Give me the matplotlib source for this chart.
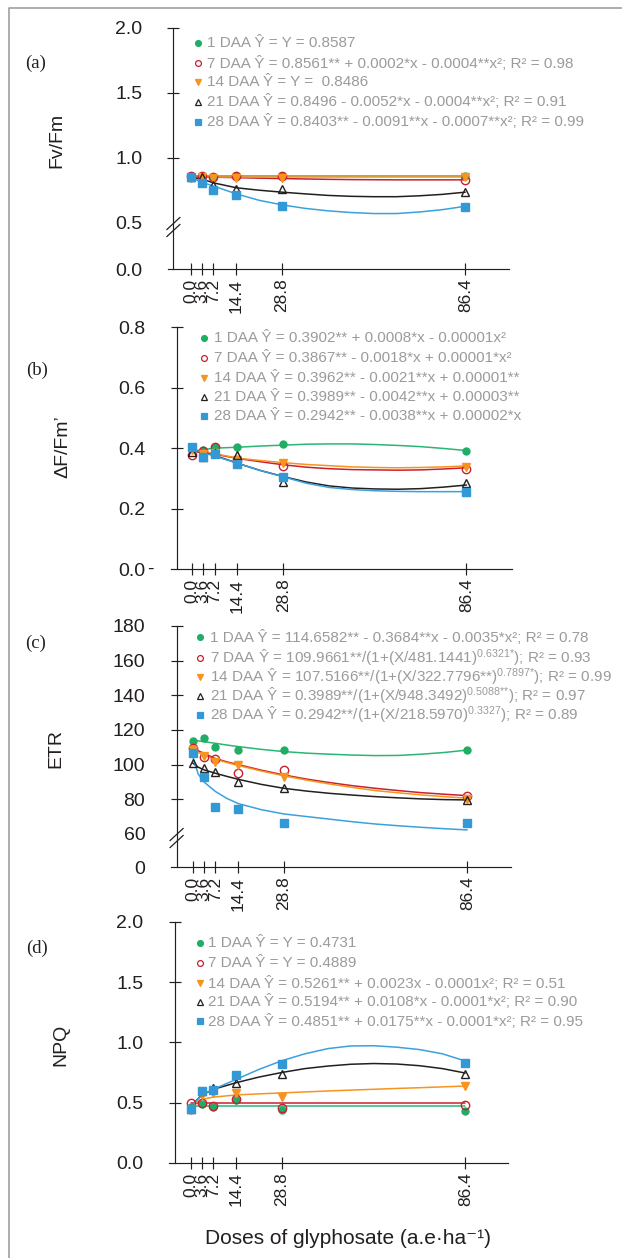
import matplotlib
matplotlib.use('Agg')
import matplotlib.pyplot as plt
from matplotlib.lines import Line2D

plt.rcParams['font.family'] = ['Liberation Sans', 'DejaVu Sans']
plt.rcParams['mathtext.fontset'] = 'custom'
plt.rcParams['mathtext.rm'] = 'Liberation Sans'
plt.rcParams['mathtext.it'] = 'Liberation Sans:italic'
plt.rcParams['mathtext.bf'] = 'Liberation Sans:bold'

# ---------------- data ----------------
doses = [0.0, 3.6, 7.2, 14.4, 28.8, 86.4]
dose_labels = ['0.0', '3.6', '7.2', '14.4', '28.8', '86.4']
days = ['1 DAA', '7 DAA', '14 DAA', '21 DAA', '28 DAA']

# (a) Fv/Fm observed
fvfm_1 = [0.855, 0.857, 0.853, 0.856, 0.856, 0.857]
fvfm_7 = [0.858, 0.858, 0.850, 0.856, 0.856, 0.827]
fvfm_14 = [0.845, 0.850, 0.842, 0.840, 0.840, 0.850]
fvfm_21 = [0.850, 0.850, 0.790, 0.757, 0.757, 0.731]
fvfm_28 = [0.850, 0.804, 0.752, 0.708, 0.630, 0.618]
# (a) fitted curves
fit_x = [0, 3.6, 7.2, 14.4, 21.6, 28.8, 36, 43.2, 50.4, 57.6, 64.8, 72, 79.2, 86.4]
flat_x = [0, 86.4]
fvfm_fit_1 = [0.8587, 0.8587]
fvfm_fit_7 = [0.852, 0.851, 0.849, 0.845, 0.841, 0.838, 0.835, 0.832, 0.830, 0.829, 0.828, 0.828, 0.828, 0.828]
fvfm_fit_14 = [0.8486, 0.8486]
fvfm_fit_21 = [0.847, 0.835, 0.805, 0.767, 0.748, 0.733, 0.720, 0.708, 0.701, 0.698, 0.698, 0.705, 0.716, 0.733]
fvfm_fit_28 = [0.847, 0.810, 0.780, 0.720, 0.670, 0.635, 0.608, 0.589, 0.576, 0.568, 0.568, 0.580, 0.598, 0.624]

# (b) dF/Fm' observed
dffm_1 = [0.405, 0.394, 0.405, 0.403, 0.413, 0.392]
dffm_7 = [0.377, 0.392, 0.403, 0.361, 0.342, 0.331]
dffm_14 = [0.395, 0.380, 0.385, 0.360, 0.352, 0.339]
dffm_21 = [0.388, 0.372, 0.385, 0.377, 0.289, 0.286]
dffm_28 = [0.405, 0.372, 0.380, 0.347, 0.304, 0.254]
dffm_fit_1 = [0.390, 0.395, 0.400, 0.403, 0.407, 0.410, 0.413, 0.414, 0.414, 0.412, 0.409, 0.405, 0.399, 0.392]
dffm_fit_7 = [0.390, 0.385, 0.380, 0.366, 0.355, 0.345, 0.337, 0.332, 0.329, 0.328, 0.327, 0.328, 0.331, 0.335]
dffm_fit_14 = [0.395, 0.388, 0.382, 0.367, 0.359, 0.352, 0.346, 0.342, 0.338, 0.336, 0.335, 0.336, 0.338, 0.341]
dffm_fit_21 = [0.395, 0.385, 0.376, 0.350, 0.326, 0.306, 0.288, 0.275, 0.268, 0.265, 0.264, 0.266, 0.271, 0.278]
dffm_fit_28 = [0.397, 0.385, 0.374, 0.350, 0.326, 0.305, 0.284, 0.270, 0.263, 0.259, 0.257, 0.256, 0.256, 0.256]

# (c) ETR observed
etr_1 = [113.8, 115.6, 110.0, 108.4, 108.4, 108.4]
etr_7 = [109.4, 104.6, 103.1, 95.0, 96.9, 81.9]
etr_14 = [108.5, 105.0, 101.5, 99.8, 93.1, 80.0]
etr_21 = [100.8, 98.3, 95.6, 90.2, 86.7, 79.6]
etr_28 = [106.9, 92.7, 75.8, 74.2, 66.1, 66.1]
etr_fit_x = [0, 1.8, 3.6, 7.2, 10.8, 14.4, 21.6, 28.8, 36, 43.2, 50.4, 57.6, 64.8, 72, 79.2, 86.4]
etr_fit_1 = [114.2, 113.7, 113.2, 112.3, 111.3, 110.4, 108.8, 107.5, 106.6, 106.0, 105.5, 105.2, 105.3, 106.0, 107.0, 108.4]
etr_fit_7 = [109.5, 108.0, 106.5, 103.5, 101.6, 100.0, 96.8, 94.0, 91.6, 89.6, 87.8, 86.3, 85.0, 83.8, 82.9, 82.1]
etr_fit_14 = [108.5, 107.0, 105.5, 103.0, 101.2, 99.5, 96.3, 93.5, 91.0, 88.8, 86.8, 85.0, 83.7, 82.5, 81.5, 80.6]
etr_fit_21 = [101.0, 98.5, 97.0, 95.0, 93.2, 91.5, 88.6, 86.3, 84.7, 83.4, 82.4, 81.5, 80.8, 80.2, 79.8, 79.6]
etr_fit_28 = [105.0, 94.5, 90.0, 84.5, 80.5, 77.5, 74.0, 71.5, 70.0, 68.5, 67.0, 65.7, 64.7, 63.8, 63.0, 62.3]

# (d) NPQ observed
npq_1 = [0.460, 0.490, 0.466, 0.520, 0.438, 0.430]
npq_7 = [0.500, 0.494, 0.474, 0.530, 0.452, 0.480]
npq_14 = [0.440, 0.563, 0.577, 0.577, 0.549, 0.640]
npq_21 = [0.450, 0.596, 0.618, 0.665, 0.737, 0.737]
npq_28 = [0.445, 0.596, 0.604, 0.729, 0.820, 0.826]
npq_fit_1 = [0.473, 0.473]
npq_fit_7 = [0.496, 0.496]
npq_fit_14 = [0.470, 0.527, 0.545, 0.563, 0.572, 0.580, 0.588, 0.596, 0.603, 0.610, 0.617, 0.623, 0.630, 0.637]
npq_fit_21 = [0.470, 0.563, 0.610, 0.665, 0.712, 0.750, 0.782, 0.803, 0.818, 0.824, 0.820, 0.806, 0.782, 0.745]
npq_fit_28 = [0.470, 0.560, 0.610, 0.693, 0.776, 0.848, 0.905, 0.948, 0.970, 0.972, 0.960, 0.940, 0.905, 0.845]

leg_a = ['1 DAA Ŷ = Y = 0.8587',
         '7 DAA Ŷ = 0.8561** + 0.0002*x - 0.0004**x²; R² = 0.98',
         '14 DAA Ŷ = Y =  0.8486',
         '21 DAA Ŷ = 0.8496 - 0.0052*x - 0.0004**x²; R² = 0.91',
         '28 DAA Ŷ = 0.8403** - 0.0091**x - 0.0007**x²; R² = 0.99']
leg_b = ['1 DAA Ŷ = 0.3902** + 0.0008*x - 0.00001x²',
         '7 DAA Ŷ = 0.3867** - 0.0018*x + 0.00001*x²',
         '14 DAA Ŷ = 0.3962** - 0.0021**x + 0.00001**',
         '21 DAA Ŷ = 0.3989** - 0.0042**x + 0.00003**',
         '28 DAA Ŷ = 0.2942** - 0.0038**x + 0.00002*x']
leg_c = ['1 DAA Ŷ = 114.6582** - 0.3684**x - 0.0035*x²; R² = 0.78',
         '7 DAA Ŷ = 109.9661**/(1+(X/481.1441)$^{0.6321{*}}$); R² = 0.93',
         '14 DAA Ŷ = 107.5166**/(1+(X/322.7796**)$^{0.7897{*}}$); R² = 0.99',
         '21 DAA Ŷ = 0.3989**/(1+(X/948.3492)$^{0.5088{*}{*}}$); R² = 0.97',
         '28 DAA Ŷ = 0.2942**/(1+(X/218.5970)$^{0.3327}$); R² = 0.89']
leg_d = ['1 DAA Ŷ = Y = 0.4731',
         '7 DAA Ŷ = Y = 0.4889',
         '14 DAA Ŷ = 0.5261** + 0.0023x - 0.0001x²; R² = 0.51',
         '21 DAA Ŷ = 0.5194** + 0.0108*x - 0.0001*x²; R² = 0.90',
         '28 DAA Ŷ = 0.4851** + 0.0175**x - 0.0001*x²; R² = 0.95']

# ---------------- styles ----------------
mk_colors = ['#20ad65', '#c8202f', '#f7931e', '#231f20', '#3399d6']
ln_colors = ['#2bb673', '#c8202f', '#f7941d', '#231f20', '#3ba1dc']
markers = ['o', 'o', 'v', '^', 's']
filled = [True, False, True, False, True]
msizes = [5.0, 6.0, 6.0, 6.0, 5.5]
AX = '#231f20'
LEG = '#9b9b9b'

W, H = 622, 1258
S = 3.18  # px per dose unit
fig = plt.figure(figsize=(W / 100, H / 100), dpi=100)


def fx(p):
    return p / W


def fy(p):
    return 1 - p / H


def make_panel(spine, x0, end, ytop, ybot, vtop, vbot, yticks, ylabels, hidden):
    left = spine - 5.5
    ax = fig.add_axes([fx(left), fy(ybot), (end - left) / W, (ybot - ytop) / H])
    ax.set_xlim(-(x0 - left) / S, (end - x0) / S)
    ax.set_ylim(vbot, vtop)
    ax.spines['left'].set_position(('data', -(x0 - spine) / S))
    for s in ['top', 'right']:
        ax.spines[s].set_visible(False)
    for s in ['left', 'bottom']:
        ax.spines[s].set_color(AX)
        ax.spines[s].set_linewidth(0.85)
    ax.set_xticks(doses)
    ax.set_xticklabels(dose_labels, rotation=90)
    ax.set_yticks(yticks)
    ax.set_yticklabels(ylabels)
    ax.tick_params(axis='x', direction='inout', length=9, width=0.85, color=AX,
                   labelsize=12.5, labelcolor=AX, pad=2.5)
    ax.tick_params(axis='y', direction='inout', length=9, width=0.85, color=AX,
                   labelsize=14, labelcolor=AX, pad=18)
    for i, t in enumerate(ax.yaxis.get_major_ticks()):
        if i in hidden:
            t.tick1line.set_visible(False)
    ax.patch.set_alpha(0)
    return ax


def draw_series(ax, obs, fits, fit_xs):
    for i in range(5):
        ax.plot(fit_xs[i], fits[i], color=ln_colors[i], lw=1.1, zorder=2, solid_capstyle='round')
    for i in range(5):
        ax.plot(doses, obs[i], ls='none', marker=markers[i], ms=msizes[i],
                mfc=mk_colors[i] if filled[i] else 'none', mec=mk_colors[i],
                mew=1.0, zorder=3 + i, clip_on=False)


def legend(texts, mx, tx, rows):
    for i, (t, y) in enumerate(zip(texts, rows)):
        fig.add_artist(Line2D([fx(mx)], [fy(y)], transform=fig.transFigure, ls='none',
                              marker=markers[i], ms=4.2,
                              mfc=mk_colors[i] if filled[i] else 'none',
                              mec=mk_colors[i], mew=0.9))
        fig.text(fx(tx), fy(y), t, fontsize=11, color=LEG, ha='left', va='center')


def break_mark(xc, yc):
    for dy in (-3.5, 3.5):
        fig.add_artist(Line2D([fx(xc - 6.5), fx(xc + 6.5)], [fy(yc + dy + 6), fy(yc + dy - 6)],
                              transform=fig.transFigure, color=AX, lw=0.9))


# ---------------- panel (a) ----------------
axa = make_panel(173.4, 190.5, 509, 28, 269, 2.0, 0.14,
                 [0.14, 0.5, 1.0, 1.5, 2.0], ['0.0', '0.5', '1.0', '1.5', '2.0'], [0, 1])
draw_series(axa, [fvfm_1, fvfm_7, fvfm_14, fvfm_21, fvfm_28],
            [fvfm_fit_1, fvfm_fit_7, fvfm_fit_14, fvfm_fit_21, fvfm_fit_28],
            [flat_x, fit_x, flat_x, fit_x, fit_x])
break_mark(173.4, 227)
legend(leg_a, 198, 207, [43, 63, 82, 101.5, 121.5])

# ---------------- panel (b) ----------------
axb = make_panel(176.6, 191.7, 512, 327.3, 569, 0.8, 0.0,
                 [0.0, 0.2, 0.4, 0.6, 0.8], ['0.0', '0.2', '0.4', '0.6', '0.8'], [0])
draw_series(axb, [dffm_1, dffm_7, dffm_14, dffm_21, dffm_28],
            [dffm_fit_1, dffm_fit_7, dffm_fit_14, dffm_fit_21, dffm_fit_28],
            [fit_x] * 5)
fig.text(fx(150), fy(569), '-', fontsize=14, color=AX, ha='center', va='center')
legend(leg_b, 204, 214, [338, 358, 378, 397, 416])

# ---------------- panel (c) ----------------
axc = make_panel(176.6, 192.5, 510.7, 626, 867, 180, 40.9,
                 [40.9, 60, 80, 100, 120, 140, 160, 180],
                 ['0', '60', '80', '100', '120', '140', '160', '180'], [0, 1])
draw_series(axc, [etr_1, etr_7, etr_14, etr_21, etr_28],
            [etr_fit_1, etr_fit_7, etr_fit_14, etr_fit_21, etr_fit_28],
            [etr_fit_x] * 5)
break_mark(176.6, 838)
legend(leg_c, 200, 210, [637, 658, 677, 696, 715])

# ---------------- panel (d) ----------------
axd = make_panel(174.6, 190.5, 508, 922, 1162.7, 2.0, 0.0,
                 [0.0, 0.5, 1.0, 1.5, 2.0], ['0.0', '0.5', '1.0', '1.5', '2.0'], [0])
draw_series(axd, [npq_1, npq_7, npq_14, npq_21, npq_28],
            [npq_fit_1, npq_fit_7, npq_fit_14, npq_fit_21, npq_fit_28],
            [flat_x, flat_x, fit_x, fit_x, fit_x])
legend(leg_d, 200, 208, [943, 963, 983, 1002, 1021])

# ---------------- labels ----------------
for lab, x, y in [('(a)', 36, 63), ('(b)', 37, 370), ('(c)', 36, 643), ('(d)', 37, 948)]:
    fig.text(fx(x), fy(y), lab, fontsize=13.5, family=['Liberation Serif', 'DejaVu Serif'],
             color=AX, ha='center', va='center')
for lab, x, y in [('Fv/Fm', 57, 140), ('ΔF/Fm’', 63, 447), ('ETR', 56, 748), ('NPQ', 61, 1045)]:
    fig.text(fx(x), fy(y), lab, fontsize=14, color=AX, rotation=90, ha='center', va='center')
fig.text(fx(348), fy(1238), 'Doses of glyphosate (a.e·ha⁻¹)', fontsize=15, color=AX,
         ha='center', va='center')

# frame
fig.add_artist(Line2D([fx(8.5), fx(8.5), fx(640)], [fy(1300), fy(7.5), fy(7.5)],
                      transform=fig.transFigure, color='#a0a0a0', lw=1.2))

fig.savefig('out.png', dpi=100)
